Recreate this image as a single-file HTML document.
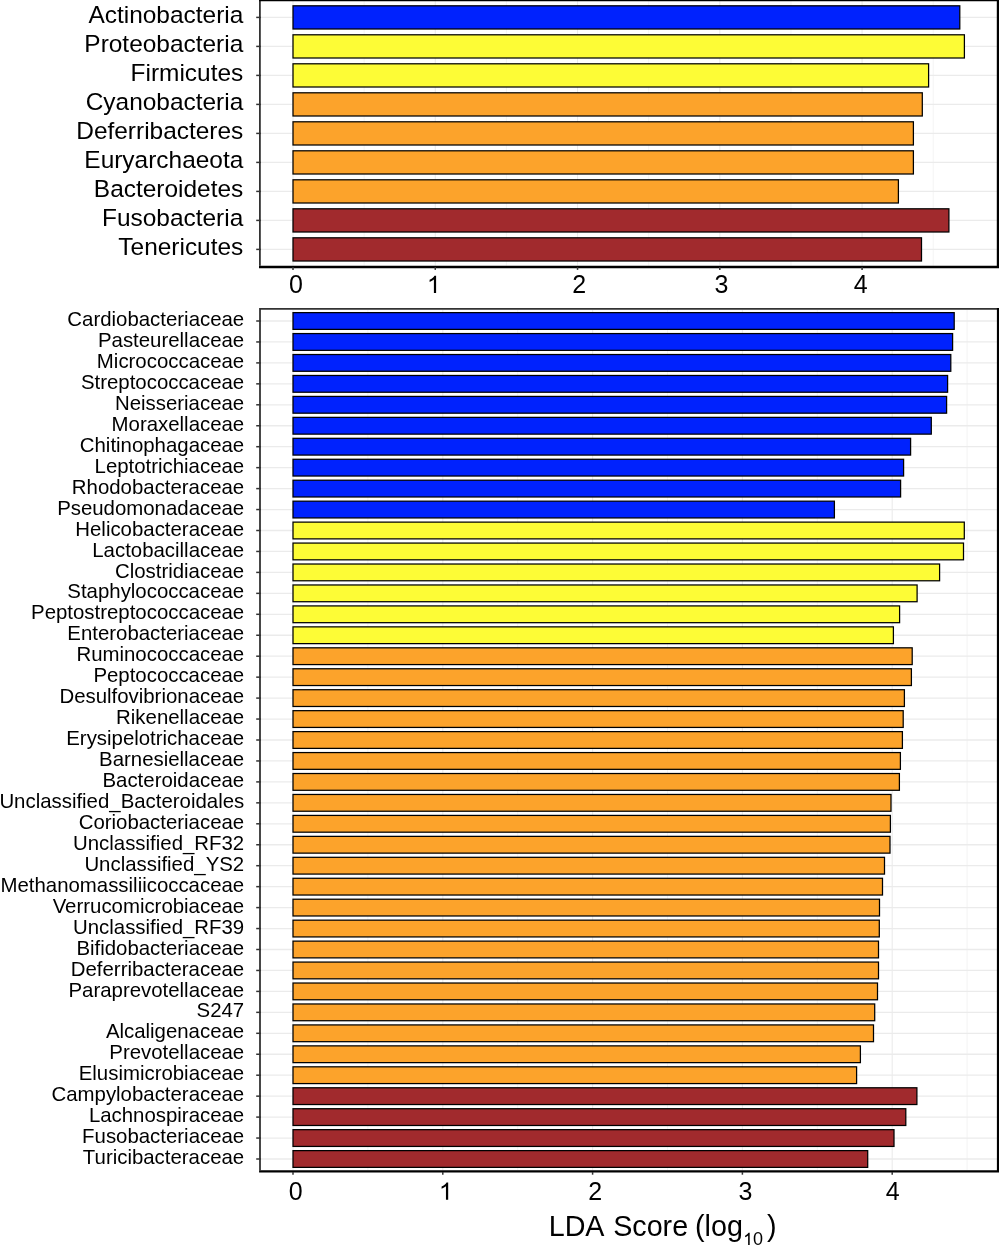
<!DOCTYPE html>
<html><head><meta charset="utf-8"><style>
html,body{margin:0;padding:0;background:#fff;}
body{width:999px;height:1246px;overflow:hidden;}
svg{display:block;font-family:"Liberation Sans",sans-serif;}
svg{will-change:transform;}
</style></head><body>
<svg width="999" height="1246" viewBox="0 0 999 1246">
<rect x="0" y="0" width="999" height="1246" fill="#fff"/>
<g font-family="Liberation Sans, sans-serif" fill="#000">
<line x1="293.00" y1="1.0" x2="293.00" y2="265.8" stroke="#ebebeb" stroke-width="1.1"/>
<line x1="364.13" y1="1.0" x2="364.13" y2="265.8" stroke="#f5f5f5" stroke-width="1.1"/>
<line x1="435.27" y1="1.0" x2="435.27" y2="265.8" stroke="#ebebeb" stroke-width="1.1"/>
<line x1="506.41" y1="1.0" x2="506.41" y2="265.8" stroke="#f5f5f5" stroke-width="1.1"/>
<line x1="577.54" y1="1.0" x2="577.54" y2="265.8" stroke="#ebebeb" stroke-width="1.1"/>
<line x1="648.67" y1="1.0" x2="648.67" y2="265.8" stroke="#f5f5f5" stroke-width="1.1"/>
<line x1="719.81" y1="1.0" x2="719.81" y2="265.8" stroke="#ebebeb" stroke-width="1.1"/>
<line x1="790.95" y1="1.0" x2="790.95" y2="265.8" stroke="#f5f5f5" stroke-width="1.1"/>
<line x1="862.08" y1="1.0" x2="862.08" y2="265.8" stroke="#ebebeb" stroke-width="1.1"/>
<line x1="933.22" y1="1.0" x2="933.22" y2="265.8" stroke="#f5f5f5" stroke-width="1.1"/>
<line x1="260.8" y1="17.40" x2="996.9" y2="17.40" stroke="#ebebeb" stroke-width="1.3"/>
<line x1="260.8" y1="46.40" x2="996.9" y2="46.40" stroke="#ebebeb" stroke-width="1.3"/>
<line x1="260.8" y1="75.40" x2="996.9" y2="75.40" stroke="#ebebeb" stroke-width="1.3"/>
<line x1="260.8" y1="104.40" x2="996.9" y2="104.40" stroke="#ebebeb" stroke-width="1.3"/>
<line x1="260.8" y1="133.40" x2="996.9" y2="133.40" stroke="#ebebeb" stroke-width="1.3"/>
<line x1="260.8" y1="162.40" x2="996.9" y2="162.40" stroke="#ebebeb" stroke-width="1.3"/>
<line x1="260.8" y1="191.40" x2="996.9" y2="191.40" stroke="#ebebeb" stroke-width="1.3"/>
<line x1="260.8" y1="220.40" x2="996.9" y2="220.40" stroke="#ebebeb" stroke-width="1.3"/>
<line x1="260.8" y1="249.40" x2="996.9" y2="249.40" stroke="#ebebeb" stroke-width="1.3"/>
<rect x="293.00" y="5.80" width="666.80" height="23.20" fill="#0022fd" stroke="#000" stroke-width="1.25"/>
<rect x="293.00" y="34.80" width="671.40" height="23.20" fill="#fdfc36" stroke="#000" stroke-width="1.25"/>
<rect x="293.00" y="63.80" width="635.60" height="23.20" fill="#fdfc36" stroke="#000" stroke-width="1.25"/>
<rect x="293.00" y="92.80" width="629.30" height="23.20" fill="#fca32b" stroke="#000" stroke-width="1.25"/>
<rect x="293.00" y="121.80" width="620.40" height="23.20" fill="#fca32b" stroke="#000" stroke-width="1.25"/>
<rect x="293.00" y="150.80" width="620.40" height="23.20" fill="#fca32b" stroke="#000" stroke-width="1.25"/>
<rect x="293.00" y="179.80" width="605.40" height="23.20" fill="#fca32b" stroke="#000" stroke-width="1.25"/>
<rect x="293.00" y="208.80" width="655.90" height="23.20" fill="#a12a2d" stroke="#000" stroke-width="1.25"/>
<rect x="293.00" y="237.80" width="628.50" height="23.20" fill="#a12a2d" stroke="#000" stroke-width="1.25"/>
<line x1="256.2" y1="17.40" x2="260.8" y2="17.40" stroke="#333" stroke-width="1.5"/>
<line x1="256.2" y1="46.40" x2="260.8" y2="46.40" stroke="#333" stroke-width="1.5"/>
<line x1="256.2" y1="75.40" x2="260.8" y2="75.40" stroke="#333" stroke-width="1.5"/>
<line x1="256.2" y1="104.40" x2="260.8" y2="104.40" stroke="#333" stroke-width="1.5"/>
<line x1="256.2" y1="133.40" x2="260.8" y2="133.40" stroke="#333" stroke-width="1.5"/>
<line x1="256.2" y1="162.40" x2="260.8" y2="162.40" stroke="#333" stroke-width="1.5"/>
<line x1="256.2" y1="191.40" x2="260.8" y2="191.40" stroke="#333" stroke-width="1.5"/>
<line x1="256.2" y1="220.40" x2="260.8" y2="220.40" stroke="#333" stroke-width="1.5"/>
<line x1="256.2" y1="249.40" x2="260.8" y2="249.40" stroke="#333" stroke-width="1.5"/>
<text x="243.3" y="22.90" font-size="24.45" text-anchor="end">Actinobacteria</text>
<text x="243.3" y="51.90" font-size="24.45" text-anchor="end">Proteobacteria</text>
<text x="243.3" y="80.90" font-size="24.45" text-anchor="end">Firmicutes</text>
<text x="243.3" y="109.90" font-size="24.45" text-anchor="end">Cyanobacteria</text>
<text x="243.3" y="138.90" font-size="24.45" text-anchor="end">Deferribacteres</text>
<text x="243.3" y="167.90" font-size="24.45" text-anchor="end">Euryarchaeota</text>
<text x="243.3" y="196.90" font-size="24.45" text-anchor="end">Bacteroidetes</text>
<text x="243.3" y="225.90" font-size="24.45" text-anchor="end">Fusobacteria</text>
<text x="243.3" y="254.90" font-size="24.45" text-anchor="end">Tenericutes</text>
<path d="M259.90000000000003,265.8 L259.90000000000003,0.09999999999999998 L996.9,0.09999999999999998" fill="none" stroke="#333" stroke-width="1.8"/>
<path d="M259.0,267.0 L998.0,267.0 L998.0,-0.8" fill="none" stroke="#000" stroke-width="2.4"/>
<line x1="293.00" y1="309.8" x2="293.00" y2="1170.2" stroke="#ebebeb" stroke-width="1.1"/>
<line x1="367.90" y1="309.8" x2="367.90" y2="1170.2" stroke="#f5f5f5" stroke-width="1.1"/>
<line x1="442.80" y1="309.8" x2="442.80" y2="1170.2" stroke="#ebebeb" stroke-width="1.1"/>
<line x1="517.70" y1="309.8" x2="517.70" y2="1170.2" stroke="#f5f5f5" stroke-width="1.1"/>
<line x1="592.60" y1="309.8" x2="592.60" y2="1170.2" stroke="#ebebeb" stroke-width="1.1"/>
<line x1="667.50" y1="309.8" x2="667.50" y2="1170.2" stroke="#f5f5f5" stroke-width="1.1"/>
<line x1="742.40" y1="309.8" x2="742.40" y2="1170.2" stroke="#ebebeb" stroke-width="1.1"/>
<line x1="817.30" y1="309.8" x2="817.30" y2="1170.2" stroke="#f5f5f5" stroke-width="1.1"/>
<line x1="892.20" y1="309.8" x2="892.20" y2="1170.2" stroke="#ebebeb" stroke-width="1.1"/>
<line x1="967.10" y1="309.8" x2="967.10" y2="1170.2" stroke="#f5f5f5" stroke-width="1.1"/>
<line x1="260.9" y1="321.00" x2="997.0" y2="321.00" stroke="#ebebeb" stroke-width="1.3"/>
<line x1="260.9" y1="341.95" x2="997.0" y2="341.95" stroke="#ebebeb" stroke-width="1.3"/>
<line x1="260.9" y1="362.90" x2="997.0" y2="362.90" stroke="#ebebeb" stroke-width="1.3"/>
<line x1="260.9" y1="383.85" x2="997.0" y2="383.85" stroke="#ebebeb" stroke-width="1.3"/>
<line x1="260.9" y1="404.80" x2="997.0" y2="404.80" stroke="#ebebeb" stroke-width="1.3"/>
<line x1="260.9" y1="425.75" x2="997.0" y2="425.75" stroke="#ebebeb" stroke-width="1.3"/>
<line x1="260.9" y1="446.70" x2="997.0" y2="446.70" stroke="#ebebeb" stroke-width="1.3"/>
<line x1="260.9" y1="467.65" x2="997.0" y2="467.65" stroke="#ebebeb" stroke-width="1.3"/>
<line x1="260.9" y1="488.60" x2="997.0" y2="488.60" stroke="#ebebeb" stroke-width="1.3"/>
<line x1="260.9" y1="509.55" x2="997.0" y2="509.55" stroke="#ebebeb" stroke-width="1.3"/>
<line x1="260.9" y1="530.50" x2="997.0" y2="530.50" stroke="#ebebeb" stroke-width="1.3"/>
<line x1="260.9" y1="551.45" x2="997.0" y2="551.45" stroke="#ebebeb" stroke-width="1.3"/>
<line x1="260.9" y1="572.40" x2="997.0" y2="572.40" stroke="#ebebeb" stroke-width="1.3"/>
<line x1="260.9" y1="593.35" x2="997.0" y2="593.35" stroke="#ebebeb" stroke-width="1.3"/>
<line x1="260.9" y1="614.30" x2="997.0" y2="614.30" stroke="#ebebeb" stroke-width="1.3"/>
<line x1="260.9" y1="635.25" x2="997.0" y2="635.25" stroke="#ebebeb" stroke-width="1.3"/>
<line x1="260.9" y1="656.20" x2="997.0" y2="656.20" stroke="#ebebeb" stroke-width="1.3"/>
<line x1="260.9" y1="677.15" x2="997.0" y2="677.15" stroke="#ebebeb" stroke-width="1.3"/>
<line x1="260.9" y1="698.10" x2="997.0" y2="698.10" stroke="#ebebeb" stroke-width="1.3"/>
<line x1="260.9" y1="719.05" x2="997.0" y2="719.05" stroke="#ebebeb" stroke-width="1.3"/>
<line x1="260.9" y1="740.00" x2="997.0" y2="740.00" stroke="#ebebeb" stroke-width="1.3"/>
<line x1="260.9" y1="760.95" x2="997.0" y2="760.95" stroke="#ebebeb" stroke-width="1.3"/>
<line x1="260.9" y1="781.90" x2="997.0" y2="781.90" stroke="#ebebeb" stroke-width="1.3"/>
<line x1="260.9" y1="802.85" x2="997.0" y2="802.85" stroke="#ebebeb" stroke-width="1.3"/>
<line x1="260.9" y1="823.80" x2="997.0" y2="823.80" stroke="#ebebeb" stroke-width="1.3"/>
<line x1="260.9" y1="844.75" x2="997.0" y2="844.75" stroke="#ebebeb" stroke-width="1.3"/>
<line x1="260.9" y1="865.70" x2="997.0" y2="865.70" stroke="#ebebeb" stroke-width="1.3"/>
<line x1="260.9" y1="886.65" x2="997.0" y2="886.65" stroke="#ebebeb" stroke-width="1.3"/>
<line x1="260.9" y1="907.60" x2="997.0" y2="907.60" stroke="#ebebeb" stroke-width="1.3"/>
<line x1="260.9" y1="928.55" x2="997.0" y2="928.55" stroke="#ebebeb" stroke-width="1.3"/>
<line x1="260.9" y1="949.50" x2="997.0" y2="949.50" stroke="#ebebeb" stroke-width="1.3"/>
<line x1="260.9" y1="970.45" x2="997.0" y2="970.45" stroke="#ebebeb" stroke-width="1.3"/>
<line x1="260.9" y1="991.40" x2="997.0" y2="991.40" stroke="#ebebeb" stroke-width="1.3"/>
<line x1="260.9" y1="1012.35" x2="997.0" y2="1012.35" stroke="#ebebeb" stroke-width="1.3"/>
<line x1="260.9" y1="1033.30" x2="997.0" y2="1033.30" stroke="#ebebeb" stroke-width="1.3"/>
<line x1="260.9" y1="1054.25" x2="997.0" y2="1054.25" stroke="#ebebeb" stroke-width="1.3"/>
<line x1="260.9" y1="1075.20" x2="997.0" y2="1075.20" stroke="#ebebeb" stroke-width="1.3"/>
<line x1="260.9" y1="1096.15" x2="997.0" y2="1096.15" stroke="#ebebeb" stroke-width="1.3"/>
<line x1="260.9" y1="1117.10" x2="997.0" y2="1117.10" stroke="#ebebeb" stroke-width="1.3"/>
<line x1="260.9" y1="1138.05" x2="997.0" y2="1138.05" stroke="#ebebeb" stroke-width="1.3"/>
<line x1="260.9" y1="1159.00" x2="997.0" y2="1159.00" stroke="#ebebeb" stroke-width="1.3"/>
<rect x="293.00" y="312.62" width="661.20" height="16.76" fill="#0022fd" stroke="#000" stroke-width="1.25"/>
<rect x="293.00" y="333.57" width="659.60" height="16.76" fill="#0022fd" stroke="#000" stroke-width="1.25"/>
<rect x="293.00" y="354.52" width="657.80" height="16.76" fill="#0022fd" stroke="#000" stroke-width="1.25"/>
<rect x="293.00" y="375.47" width="654.60" height="16.76" fill="#0022fd" stroke="#000" stroke-width="1.25"/>
<rect x="293.00" y="396.42" width="653.60" height="16.76" fill="#0022fd" stroke="#000" stroke-width="1.25"/>
<rect x="293.00" y="417.37" width="638.30" height="16.76" fill="#0022fd" stroke="#000" stroke-width="1.25"/>
<rect x="293.00" y="438.32" width="617.60" height="16.76" fill="#0022fd" stroke="#000" stroke-width="1.25"/>
<rect x="293.00" y="459.27" width="610.60" height="16.76" fill="#0022fd" stroke="#000" stroke-width="1.25"/>
<rect x="293.00" y="480.22" width="607.60" height="16.76" fill="#0022fd" stroke="#000" stroke-width="1.25"/>
<rect x="293.00" y="501.17" width="541.40" height="16.76" fill="#0022fd" stroke="#000" stroke-width="1.25"/>
<rect x="293.00" y="522.12" width="671.30" height="16.76" fill="#fdfc36" stroke="#000" stroke-width="1.25"/>
<rect x="293.00" y="543.07" width="670.50" height="16.76" fill="#fdfc36" stroke="#000" stroke-width="1.25"/>
<rect x="293.00" y="564.02" width="646.60" height="16.76" fill="#fdfc36" stroke="#000" stroke-width="1.25"/>
<rect x="293.00" y="584.97" width="624.10" height="16.76" fill="#fdfc36" stroke="#000" stroke-width="1.25"/>
<rect x="293.00" y="605.92" width="606.60" height="16.76" fill="#fdfc36" stroke="#000" stroke-width="1.25"/>
<rect x="293.00" y="626.87" width="600.40" height="16.76" fill="#fdfc36" stroke="#000" stroke-width="1.25"/>
<rect x="293.00" y="647.82" width="619.20" height="16.76" fill="#fca32b" stroke="#000" stroke-width="1.25"/>
<rect x="293.00" y="668.77" width="618.40" height="16.76" fill="#fca32b" stroke="#000" stroke-width="1.25"/>
<rect x="293.00" y="689.72" width="611.40" height="16.76" fill="#fca32b" stroke="#000" stroke-width="1.25"/>
<rect x="293.00" y="710.67" width="610.20" height="16.76" fill="#fca32b" stroke="#000" stroke-width="1.25"/>
<rect x="293.00" y="731.62" width="609.40" height="16.76" fill="#fca32b" stroke="#000" stroke-width="1.25"/>
<rect x="293.00" y="752.57" width="607.40" height="16.76" fill="#fca32b" stroke="#000" stroke-width="1.25"/>
<rect x="293.00" y="773.52" width="606.40" height="16.76" fill="#fca32b" stroke="#000" stroke-width="1.25"/>
<rect x="293.00" y="794.47" width="598.00" height="16.76" fill="#fca32b" stroke="#000" stroke-width="1.25"/>
<rect x="293.00" y="815.42" width="597.40" height="16.76" fill="#fca32b" stroke="#000" stroke-width="1.25"/>
<rect x="293.00" y="836.37" width="597.00" height="16.76" fill="#fca32b" stroke="#000" stroke-width="1.25"/>
<rect x="293.00" y="857.32" width="591.50" height="16.76" fill="#fca32b" stroke="#000" stroke-width="1.25"/>
<rect x="293.00" y="878.27" width="589.50" height="16.76" fill="#fca32b" stroke="#000" stroke-width="1.25"/>
<rect x="293.00" y="899.22" width="586.50" height="16.76" fill="#fca32b" stroke="#000" stroke-width="1.25"/>
<rect x="293.00" y="920.17" width="586.30" height="16.76" fill="#fca32b" stroke="#000" stroke-width="1.25"/>
<rect x="293.00" y="941.12" width="585.50" height="16.76" fill="#fca32b" stroke="#000" stroke-width="1.25"/>
<rect x="293.00" y="962.07" width="585.50" height="16.76" fill="#fca32b" stroke="#000" stroke-width="1.25"/>
<rect x="293.00" y="983.02" width="584.50" height="16.76" fill="#fca32b" stroke="#000" stroke-width="1.25"/>
<rect x="293.00" y="1003.97" width="581.70" height="16.76" fill="#fca32b" stroke="#000" stroke-width="1.25"/>
<rect x="293.00" y="1024.92" width="580.50" height="16.76" fill="#fca32b" stroke="#000" stroke-width="1.25"/>
<rect x="293.00" y="1045.87" width="567.40" height="16.76" fill="#fca32b" stroke="#000" stroke-width="1.25"/>
<rect x="293.00" y="1066.82" width="563.60" height="16.76" fill="#fca32b" stroke="#000" stroke-width="1.25"/>
<rect x="293.00" y="1087.77" width="623.90" height="16.76" fill="#a12a2d" stroke="#000" stroke-width="1.25"/>
<rect x="293.00" y="1108.72" width="612.80" height="16.76" fill="#a12a2d" stroke="#000" stroke-width="1.25"/>
<rect x="293.00" y="1129.67" width="601.00" height="16.76" fill="#a12a2d" stroke="#000" stroke-width="1.25"/>
<rect x="293.00" y="1150.62" width="574.70" height="16.76" fill="#a12a2d" stroke="#000" stroke-width="1.25"/>
<line x1="256.2" y1="321.00" x2="260.9" y2="321.00" stroke="#333" stroke-width="1.5"/>
<line x1="256.2" y1="341.95" x2="260.9" y2="341.95" stroke="#333" stroke-width="1.5"/>
<line x1="256.2" y1="362.90" x2="260.9" y2="362.90" stroke="#333" stroke-width="1.5"/>
<line x1="256.2" y1="383.85" x2="260.9" y2="383.85" stroke="#333" stroke-width="1.5"/>
<line x1="256.2" y1="404.80" x2="260.9" y2="404.80" stroke="#333" stroke-width="1.5"/>
<line x1="256.2" y1="425.75" x2="260.9" y2="425.75" stroke="#333" stroke-width="1.5"/>
<line x1="256.2" y1="446.70" x2="260.9" y2="446.70" stroke="#333" stroke-width="1.5"/>
<line x1="256.2" y1="467.65" x2="260.9" y2="467.65" stroke="#333" stroke-width="1.5"/>
<line x1="256.2" y1="488.60" x2="260.9" y2="488.60" stroke="#333" stroke-width="1.5"/>
<line x1="256.2" y1="509.55" x2="260.9" y2="509.55" stroke="#333" stroke-width="1.5"/>
<line x1="256.2" y1="530.50" x2="260.9" y2="530.50" stroke="#333" stroke-width="1.5"/>
<line x1="256.2" y1="551.45" x2="260.9" y2="551.45" stroke="#333" stroke-width="1.5"/>
<line x1="256.2" y1="572.40" x2="260.9" y2="572.40" stroke="#333" stroke-width="1.5"/>
<line x1="256.2" y1="593.35" x2="260.9" y2="593.35" stroke="#333" stroke-width="1.5"/>
<line x1="256.2" y1="614.30" x2="260.9" y2="614.30" stroke="#333" stroke-width="1.5"/>
<line x1="256.2" y1="635.25" x2="260.9" y2="635.25" stroke="#333" stroke-width="1.5"/>
<line x1="256.2" y1="656.20" x2="260.9" y2="656.20" stroke="#333" stroke-width="1.5"/>
<line x1="256.2" y1="677.15" x2="260.9" y2="677.15" stroke="#333" stroke-width="1.5"/>
<line x1="256.2" y1="698.10" x2="260.9" y2="698.10" stroke="#333" stroke-width="1.5"/>
<line x1="256.2" y1="719.05" x2="260.9" y2="719.05" stroke="#333" stroke-width="1.5"/>
<line x1="256.2" y1="740.00" x2="260.9" y2="740.00" stroke="#333" stroke-width="1.5"/>
<line x1="256.2" y1="760.95" x2="260.9" y2="760.95" stroke="#333" stroke-width="1.5"/>
<line x1="256.2" y1="781.90" x2="260.9" y2="781.90" stroke="#333" stroke-width="1.5"/>
<line x1="256.2" y1="802.85" x2="260.9" y2="802.85" stroke="#333" stroke-width="1.5"/>
<line x1="256.2" y1="823.80" x2="260.9" y2="823.80" stroke="#333" stroke-width="1.5"/>
<line x1="256.2" y1="844.75" x2="260.9" y2="844.75" stroke="#333" stroke-width="1.5"/>
<line x1="256.2" y1="865.70" x2="260.9" y2="865.70" stroke="#333" stroke-width="1.5"/>
<line x1="256.2" y1="886.65" x2="260.9" y2="886.65" stroke="#333" stroke-width="1.5"/>
<line x1="256.2" y1="907.60" x2="260.9" y2="907.60" stroke="#333" stroke-width="1.5"/>
<line x1="256.2" y1="928.55" x2="260.9" y2="928.55" stroke="#333" stroke-width="1.5"/>
<line x1="256.2" y1="949.50" x2="260.9" y2="949.50" stroke="#333" stroke-width="1.5"/>
<line x1="256.2" y1="970.45" x2="260.9" y2="970.45" stroke="#333" stroke-width="1.5"/>
<line x1="256.2" y1="991.40" x2="260.9" y2="991.40" stroke="#333" stroke-width="1.5"/>
<line x1="256.2" y1="1012.35" x2="260.9" y2="1012.35" stroke="#333" stroke-width="1.5"/>
<line x1="256.2" y1="1033.30" x2="260.9" y2="1033.30" stroke="#333" stroke-width="1.5"/>
<line x1="256.2" y1="1054.25" x2="260.9" y2="1054.25" stroke="#333" stroke-width="1.5"/>
<line x1="256.2" y1="1075.20" x2="260.9" y2="1075.20" stroke="#333" stroke-width="1.5"/>
<line x1="256.2" y1="1096.15" x2="260.9" y2="1096.15" stroke="#333" stroke-width="1.5"/>
<line x1="256.2" y1="1117.10" x2="260.9" y2="1117.10" stroke="#333" stroke-width="1.5"/>
<line x1="256.2" y1="1138.05" x2="260.9" y2="1138.05" stroke="#333" stroke-width="1.5"/>
<line x1="256.2" y1="1159.00" x2="260.9" y2="1159.00" stroke="#333" stroke-width="1.5"/>
<text x="244.2" y="326.10" font-size="20.4" text-anchor="end">Cardiobacteriaceae</text>
<text x="244.2" y="347.05" font-size="20.4" text-anchor="end">Pasteurellaceae</text>
<text x="244.2" y="368.00" font-size="20.4" text-anchor="end">Micrococcaceae</text>
<text x="244.2" y="388.95" font-size="20.4" text-anchor="end">Streptococcaceae</text>
<text x="244.2" y="409.90" font-size="20.4" text-anchor="end">Neisseriaceae</text>
<text x="244.2" y="430.85" font-size="20.4" text-anchor="end">Moraxellaceae</text>
<text x="244.2" y="451.80" font-size="20.4" text-anchor="end">Chitinophagaceae</text>
<text x="244.2" y="472.75" font-size="20.4" text-anchor="end">Leptotrichiaceae</text>
<text x="244.2" y="493.70" font-size="20.4" text-anchor="end">Rhodobacteraceae</text>
<text x="244.2" y="514.65" font-size="20.4" text-anchor="end">Pseudomonadaceae</text>
<text x="244.2" y="535.60" font-size="20.4" text-anchor="end">Helicobacteraceae</text>
<text x="244.2" y="556.55" font-size="20.4" text-anchor="end">Lactobacillaceae</text>
<text x="244.2" y="577.50" font-size="20.4" text-anchor="end">Clostridiaceae</text>
<text x="244.2" y="598.45" font-size="20.4" text-anchor="end">Staphylococcaceae</text>
<text x="244.2" y="619.40" font-size="20.4" text-anchor="end">Peptostreptococcaceae</text>
<text x="244.2" y="640.35" font-size="20.4" text-anchor="end">Enterobacteriaceae</text>
<text x="244.2" y="661.30" font-size="20.4" text-anchor="end">Ruminococcaceae</text>
<text x="244.2" y="682.25" font-size="20.4" text-anchor="end">Peptococcaceae</text>
<text x="244.2" y="703.20" font-size="20.4" text-anchor="end">Desulfovibrionaceae</text>
<text x="244.2" y="724.15" font-size="20.4" text-anchor="end">Rikenellaceae</text>
<text x="244.2" y="745.10" font-size="20.4" text-anchor="end">Erysipelotrichaceae</text>
<text x="244.2" y="766.05" font-size="20.4" text-anchor="end">Barnesiellaceae</text>
<text x="244.2" y="787.00" font-size="20.4" text-anchor="end">Bacteroidaceae</text>
<text x="244.2" y="807.95" font-size="20.4" text-anchor="end">Unclassified_Bacteroidales</text>
<text x="244.2" y="828.90" font-size="20.4" text-anchor="end">Coriobacteriaceae</text>
<text x="244.2" y="849.85" font-size="20.4" text-anchor="end">Unclassified_RF32</text>
<text x="244.2" y="870.80" font-size="20.4" text-anchor="end">Unclassified_YS2</text>
<text x="244.2" y="891.75" font-size="20.4" text-anchor="end">Methanomassiliicoccaceae</text>
<text x="244.2" y="912.70" font-size="20.4" text-anchor="end">Verrucomicrobiaceae</text>
<text x="244.2" y="933.65" font-size="20.4" text-anchor="end">Unclassified_RF39</text>
<text x="244.2" y="954.60" font-size="20.4" text-anchor="end">Bifidobacteriaceae</text>
<text x="244.2" y="975.55" font-size="20.4" text-anchor="end">Deferribacteraceae</text>
<text x="244.2" y="996.50" font-size="20.4" text-anchor="end">Paraprevotellaceae</text>
<text x="244.2" y="1017.45" font-size="20.4" text-anchor="end">S247</text>
<text x="244.2" y="1038.40" font-size="20.4" text-anchor="end">Alcaligenaceae</text>
<text x="244.2" y="1059.35" font-size="20.4" text-anchor="end">Prevotellaceae</text>
<text x="244.2" y="1080.30" font-size="20.4" text-anchor="end">Elusimicrobiaceae</text>
<text x="244.2" y="1101.25" font-size="20.4" text-anchor="end">Campylobacteraceae</text>
<text x="244.2" y="1122.20" font-size="20.4" text-anchor="end">Lachnospiraceae</text>
<text x="244.2" y="1143.15" font-size="20.4" text-anchor="end">Fusobacteriaceae</text>
<text x="244.2" y="1164.10" font-size="20.4" text-anchor="end">Turicibacteraceae</text>
<path d="M260.0,1170.2 L260.0,308.90000000000003 L997.0,308.90000000000003" fill="none" stroke="#333" stroke-width="1.8"/>
<path d="M259.09999999999997,1171.4 L998.1,1171.4 L998.1,308.0" fill="none" stroke="#000" stroke-width="2.4"/>
<line x1="259.1" y1="0.05" x2="999" y2="0.05" stroke="#000" stroke-width="2.5"/>
<line x1="293.00" y1="267" x2="293.00" y2="269.9" stroke="#333" stroke-width="1.5"/>
<line x1="435.27" y1="267" x2="435.27" y2="269.9" stroke="#333" stroke-width="1.5"/>
<line x1="577.54" y1="267" x2="577.54" y2="269.9" stroke="#333" stroke-width="1.5"/>
<line x1="719.81" y1="267" x2="719.81" y2="269.9" stroke="#333" stroke-width="1.5"/>
<line x1="862.08" y1="267" x2="862.08" y2="269.9" stroke="#333" stroke-width="1.5"/>
<line x1="293.00" y1="1172" x2="293.00" y2="1174.7" stroke="#333" stroke-width="1.5"/>
<line x1="442.80" y1="1172" x2="442.80" y2="1174.7" stroke="#333" stroke-width="1.5"/>
<line x1="592.60" y1="1172" x2="592.60" y2="1174.7" stroke="#333" stroke-width="1.5"/>
<line x1="742.40" y1="1172" x2="742.40" y2="1174.7" stroke="#333" stroke-width="1.5"/>
<line x1="892.20" y1="1172" x2="892.20" y2="1174.7" stroke="#333" stroke-width="1.5"/>
<text x="295.9" y="292.9" font-size="25" text-anchor="middle">0</text>
<text x="579.3" y="292.9" font-size="25" text-anchor="middle">2</text>
<text x="721.4" y="292.9" font-size="25" text-anchor="middle">3</text>
<text x="860.6" y="292.9" font-size="25" text-anchor="middle">4</text>
<path d="M436.10,292.90 L436.10,275.70 L434.48,275.70 C433.60,277.40 431.85,278.77 429.60,279.77 L429.60,281.90 C431.35,281.15 432.85,280.27 433.90,279.40 L433.90,292.90 Z" fill="#000"/>
<text x="295.8" y="1199.8" font-size="25" text-anchor="middle">0</text>
<text x="595.2" y="1199.8" font-size="25" text-anchor="middle">2</text>
<text x="745.4" y="1199.8" font-size="25" text-anchor="middle">3</text>
<text x="892.6" y="1199.8" font-size="25" text-anchor="middle">4</text>
<path d="M448.18,1199.80 L448.18,1182.39 L446.53,1182.39 C445.65,1184.11 443.88,1185.51 441.60,1186.52 L441.60,1188.67 C443.37,1187.91 444.89,1187.02 445.95,1186.14 L445.95,1199.80 Z" fill="#000"/>
<text x="548.70" y="1235.5" font-size="28.7">LDA</text>
<text x="613.18" y="1235.5" font-size="28.7">Score</text>
<text x="695.12" y="1235.5" font-size="28.7">(</text>
<text x="704.58" y="1235.5" font-size="28.7">log</text>
<path d="M749.68,1244.90 L749.68,1232.79 L748.53,1232.79 C747.92,1233.99 746.68,1234.96 745.10,1235.66 L745.10,1237.16 C746.33,1236.63 747.39,1236.01 748.13,1235.40 L748.13,1244.90 Z" fill="#000"/>
<text x="753.00" y="1245.2" font-size="18">0</text>
<text x="767.03" y="1235.5" font-size="28.7">)</text>
</g></svg>
</body></html>
